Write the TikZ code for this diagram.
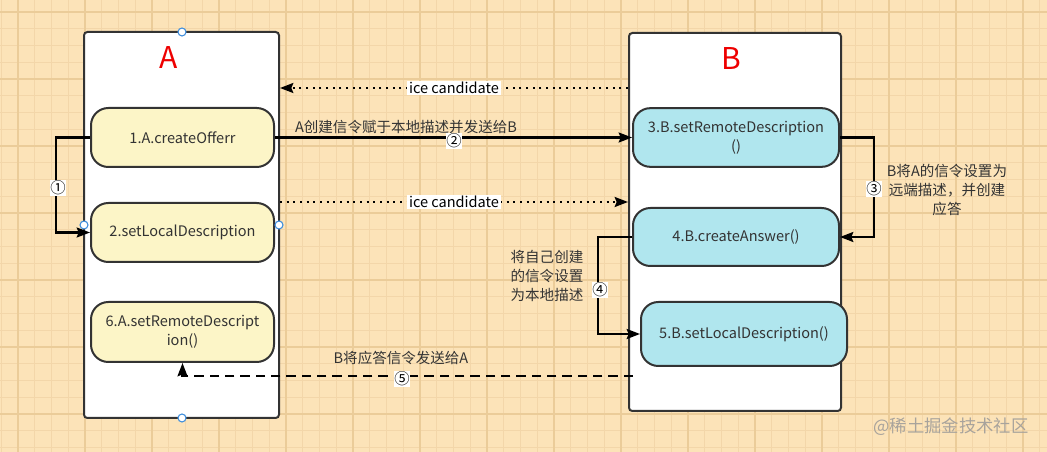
\documentclass[tikz,border=0pt]{standalone}
\usepackage{fontspec}
\setmainfont{Noto Sans CJK SC}
\usetikzlibrary{arrows.meta}
\definecolor{bgc}{HTML}{FCE3B8}
\definecolor{gridminor}{HTML}{F3D6A9}
\definecolor{gridmajor}{HTML}{EBCC99}
\definecolor{edgec}{HTML}{333333}
\definecolor{txt}{HTML}{333333}
\definecolor{ayel}{HTML}{FCF5C7}
\definecolor{bcyan}{HTML}{B0E6EE}
\definecolor{titlered}{HTML}{EE0000}
\definecolor{handlec}{HTML}{3F8EDC}
\definecolor{wmc}{HTML}{A8A39C}
\begin{document}
\begin{tikzpicture}[x=0.75pt,y=-0.75pt,
  basefont/.style={font=\fontsize{10.9}{14}\selectfont},
  cbox/.style={draw=edgec, line width=1.5pt, fill=white, rounded corners=2.5pt, inner sep=0},
  anode/.style={basefont, draw=edgec, line width=1.5pt, fill=ayel, rounded corners=13pt, minimum width=137.25pt, minimum height=44.25pt, inner sep=0, align=center, text=txt},
  bnode/.style={basefont, draw=edgec, line width=1.5pt, fill=bcyan, rounded corners=13pt, minimum width=154.5pt, minimum height=44pt, inner sep=0, align=center, text=txt},
  titletext/.style={font=\fontsize{22.5}{26}\selectfont, text=titlered, inner sep=0},
  conn/.style={draw=black, line width=1.6pt, -{Stealth[length=10pt,width=7.5pt,inset=1.5pt]}},
  dashconn/.style={conn, dash pattern=on 7pt off 4.5pt},
  dotconn/.style={conn, line width=1.5pt, dash pattern=on 1.5pt off 3.5pt},
  lab/.style={basefont, text=txt, inner sep=0},
  numlab/.style={font=\fontsize{11.5}{14}\selectfont, text=black, fill=white, inner sep=0.6pt},
  icelab/.style={basefont, text=black, fill=white, inner sep=1.2pt},
  handle/.style={circle, draw=handlec, fill=white, line width=0.8pt, minimum size=6pt, inner sep=0}
]
\useasboundingbox (0,0) rectangle (1047,452);
\clip (0,0) rectangle (1047,452);
% background and grid
\fill[bgc] (0,0) rectangle (1047,452);
\foreach \i in {0,...,62} {
  \pgfmathsetmacro\xx{1.25+16.75*\i}
  \draw[gridminor, line width=0.6pt] (\xx,0) -- (\xx,452);
}
\foreach \j in {0,...,26} {
  \pgfmathsetmacro\yy{12+16.75*\j}
  \draw[gridminor, line width=0.6pt] (0,\yy) -- (1047,\yy);
}
\foreach \i in {0,...,15} {
  \pgfmathsetmacro\xx{18+67*\i}
  \draw[gridmajor, line width=0.8pt] (\xx,0) -- (\xx,452);
}
\foreach \j in {0,...,6} {
  \pgfmathsetmacro\yy{12+67*\j}
  \draw[gridmajor, line width=0.8pt] (0,\yy) -- (1047,\yy);
}
% containers
\node[cbox, minimum width=146.25pt, minimum height=289.5pt] (A) at (181.5,225) {};
\node[cbox, minimum width=159pt, minimum height=283.5pt] (B) at (735,222) {};
\node[titletext] (tA) at (169,58) {A};
\node[titletext] (tB) at (731,59) {B};
% steps
\node[anode] (n1) at (182.5,137.5) {1.A.createOfferr};
\node[anode] (n2) at (182.5,232.5) {2.setLocalDescription};
\node[anode, minimum height=45pt] (n6) at (182.5,332) {6.A.setRemoteDescript\\ion()};
\node[bnode] (n3) at (736,137.5) {3.B.setRemoteDescription\\()};
\node[bnode, minimum height=43.5pt] (n4) at (736,237) {4.B.createAnswer()};
\node[bnode, minimum height=48pt] (n5) at (744,334) {5.B.setLocalDescription()};
% ice candidates
\draw[dotconn] (B.west |- 0,88) -- (A.east |- 0,88) node[midway, icelab] (ice1) {ice candidate};
\draw[dotconn] (A.east |- 0,202) -- (B.west |- 0,202) node[midway, icelab] (ice2) {ice candidate};
% step 1
\draw[conn] (n1.west) -- ++(-25.5pt,0) |- (n2.west);
\node[numlab] (l1) at (58,188) {①};
% step 2
\draw[conn] (n1.east) -- (n3.west);
\node[lab] (l2t) at (406,127) {A创建信令赋于本地描述并发送给B};
\node[numlab] (l2) at (454,141) {②};
% step 3
\draw[conn] (n3.east) -- ++(25.5pt,0) |- (n4.east);
\node[numlab] (l3) at (874,189) {③};
\node[lab, align=center] (l3t) at (947,190) {B将A的信令设置为\\远端描述，并创建\\应答};
% step 4
\draw[conn] (n4.west) -- ++(-25.5pt,0) |- (n5.west);
\node[numlab] (l4) at (600,290) {④};
\node[lab, align=left] (l4t) at (547,276) {将自己创建\\的信令设置\\为本地描述};
% step 5
\coordinate (d5) at (633,376);
\draw[dashconn] (d5) -| (n6.south);
\node[lab] (l5t) at (401,358) {B将应答信令发送给A};
\node[numlab] (l5) at (402,379) {⑤};
% selection handles
\node[handle] (h1) at (182,32) {};
\node[handle] (h2) at (182,418) {};
\node[handle] (h3) at (84,225) {};
\node[handle] (h4) at (279,225) {};
% site watermark
\node[font=\fontsize{13}{14}\selectfont, text=wmc, inner sep=0] (wm0) at (951,427) {@稀土掘金技术社区};
\end{tikzpicture}
\end{document}
